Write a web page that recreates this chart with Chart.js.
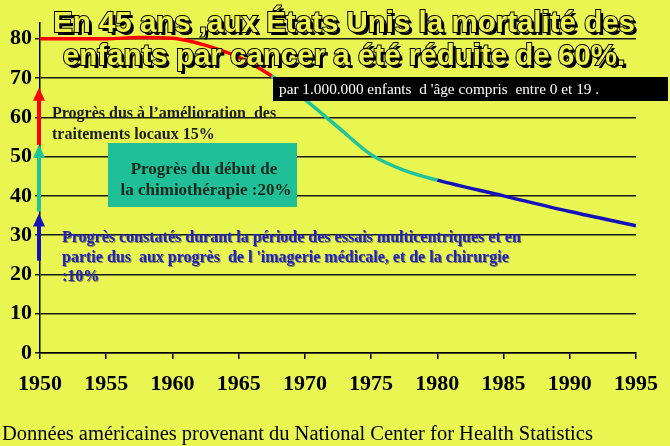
<!DOCTYPE html>
<html>
<head>
<meta charset="utf-8">
<script src="https://cdn.jsdelivr.net/npm/chart.js@4"></script>
<style>
  body { margin: 0; background: #e9f551; }
  canvas { display: block; }
</style>
</head>
<body>
<canvas id="chart" width="670" height="446"></canvas>
<script>
// Data (deaths per 1 000 000 children)
const years = [1950, 1955, 1957.5, 1960, 1963, 1965.5, 1967.5, 1970, 1972.5, 1975, 1977.5, 1980, 1985, 1990, 1995];
const mortality = [80, 80, 80.3, 80.1, 77.8, 74.5, 70.5, 64.5, 57.5, 50.5, 46.5, 44, 40, 36, 32.4];
const yearTicks = [1950, 1955, 1960, 1965, 1970, 1975, 1980, 1985, 1990, 1995];
const valueTicks = [0, 10, 20, 30, 40, 50, 60, 70, 80];

// Period limits (colour of the curve)
const chemoStart = 1967.5;
const trialsStart = 1980;

// Arrows on the y axis: [from, to] in mortality units
const arrowTrials = [23.5, 35.5];
const arrowChemo = [36, 53];
const arrowLocal = [53, 67.5];

const titleLines = ['En 45 ans ,aux États Unis la mortalité des', 'enfants par cancer a été réduite de 60%.'];
const unitNote = 'par 1.000.000 enfants  d \'âge compris  entre 0 et 19 .';
const localLines = ['Progrès dus à l\u2019amélioration  des', 'traitements locaux 15%'];
const chemoLines = ['Progrès du début de', 'la chimiothérapie :20%'];
const trialsLines = ['Progrès constatés durant la période des essais multicentriques et en',
                     'partie dus  aux progrès  de l \'imagerie médicale, et de la chirurgie',
                     ':10%'];
const sourceNote = 'Données américaines provenant du National Center for Health Statistics';

const RED = '#ff0000';
const TEAL = '#1fc49a';
const BLUE = '#1212b8';
const BG = '#e9f551';

function arrow(ctx, x, y1, y2, color) {
    ctx.save();
    ctx.strokeStyle = color;
    ctx.fillStyle = color;
    ctx.lineWidth = 4;
    ctx.beginPath();
    ctx.moveTo(x, y1);
    ctx.lineTo(x, y2 + 10);
    ctx.stroke();
    ctx.beginPath();
    ctx.moveTo(x, y2);
    ctx.lineTo(x - 6, y2 + 13);
    ctx.lineTo(x + 6, y2 + 13);
    ctx.closePath();
    ctx.fill();
    ctx.restore();
}

const decorations = {
    id: 'decorations',
    beforeDraw(chart) {
        const ctx = chart.ctx;
        ctx.save();
        ctx.fillStyle = BG;
        ctx.fillRect(0, 0, chart.width, chart.height);
        ctx.restore();
    },
    afterDatasetsDraw(chart) {
        const ctx = chart.ctx;
        const y = chart.scales.y;
        const ax = chart.chartArea.left - 1;

        // arrows along the axis
        arrow(ctx, ax, y.getPixelForValue(arrowTrials[0]), y.getPixelForValue(arrowTrials[1]), BLUE);
        arrow(ctx, ax, y.getPixelForValue(arrowChemo[0]), y.getPixelForValue(arrowChemo[1]), TEAL);
        arrow(ctx, ax, y.getPixelForValue(arrowLocal[0]), y.getPixelForValue(arrowLocal[1]), RED);

        ctx.save();
        // local treatments text
        ctx.fillStyle = '#1c1c1c';
        ctx.font = 'bold 16px "Liberation Serif"';
        ctx.textAlign = 'left';
        ctx.textBaseline = 'alphabetic';
        ctx.fillText(localLines[0], 52, 118);
        ctx.fillText(localLines[1], 52, 139);

        // chemotherapy box
        ctx.fillStyle = '#1fbf98';
        ctx.fillRect(108, 143, 189, 64);
        ctx.fillStyle = '#14281c';
        ctx.font = 'bold 17px "Liberation Serif"';
        ctx.textAlign = 'center';
        ctx.fillText(chemoLines[0], 204, 174);
        ctx.fillText(chemoLines[1], 206, 195);

        // multicentric trials text
        ctx.font = 'bold 16px "Liberation Serif"';
        ctx.textAlign = 'left';
        ctx.shadowColor = 'rgba(60,60,60,0.6)';
        ctx.shadowOffsetX = 1;
        ctx.shadowOffsetY = 1;
        ctx.fillStyle = '#2222c4';
        trialsLines.forEach((t, i) => ctx.fillText(t, 62, 242 + i * 19.5));
        ctx.shadowColor = 'transparent';

        // unit note box
        ctx.fillStyle = '#000';
        ctx.fillRect(273, 77, 395, 24);
        ctx.fillStyle = '#fff';
        ctx.font = '15.3px "Liberation Serif"';
        ctx.fillText(unitNote, 279, 94);

        // title with shadow
        ctx.font = 'bold 29.5px "Liberation Sans"';
        ctx.textAlign = 'center';
        titleLines.forEach((t, i) => {
            const ty = 32 + i * 33;
            ctx.fillStyle = '#000';
            ctx.fillText(t, 347, ty + 3);
            ctx.lineWidth = 2;
            ctx.strokeStyle = '#000';
            ctx.strokeText(t, 344, ty);
            ctx.fillStyle = '#eef34a';
            ctx.fillText(t, 344, ty);
        });

        // source
        ctx.fillStyle = '#000';
        ctx.font = '20.5px "Liberation Serif"';
        ctx.textAlign = 'left';
        ctx.fillText(sourceNote, 2, 440);
        ctx.restore();
    }
};

new Chart(document.getElementById('chart'), {
    type: 'line',
    data: {
        datasets: [{
            data: years.map((x, i) => ({ x: x, y: mortality[i] })),
            borderWidth: 3.5,
            pointRadius: 0,
            cubicInterpolationMode: 'monotone',
            borderColor: RED,
            segment: {
                borderColor: ctx => ctx.p0.parsed.x < chemoStart ? RED : (ctx.p0.parsed.x < trialsStart ? TEAL : BLUE)
            }
        }]
    },
    options: {
        responsive: false,
        animation: false,
        layout: { padding: { top: 23, right: 26, left: 0, bottom: 0 } },
        plugins: {
            legend: { display: false },
            tooltip: { enabled: false }
        },
        scales: {
            x: {
                type: 'linear',
                min: 1950,
                max: 1995,
                afterBuildTicks: scale => { scale.ticks = yearTicks.map(v => ({ value: v })); },
                afterFit: scale => { scale.height = 93; },
                grid: { drawOnChartArea: false, drawTicks: true, tickLength: 6, color: '#000', lineWidth: 1.5 },
                border: { color: '#000', width: 1.5 },
                ticks: {
                    callback: v => String(v),
                    color: '#000',
                    padding: 12,
                    maxRotation: 0,
                    font: { family: '"Liberation Serif"', weight: 'bold', size: 22 }
                }
            },
            y: {
                min: 0,
                max: 84,
                afterBuildTicks: scale => { scale.ticks = valueTicks.map(v => ({ value: v })); },
                afterFit: scale => { scale.width = 40; },
                grid: { color: '#1a1a1a', lineWidth: 1.5, tickLength: 5 },
                border: { color: '#000', width: 1.5 },
                ticks: {
                    color: '#000',
                    padding: 3,
                    font: { family: '"Liberation Serif"', weight: 'bold', size: 22 }
                }
            }
        }
    },
    plugins: [decorations]
});
</script>
</body>
</html>
